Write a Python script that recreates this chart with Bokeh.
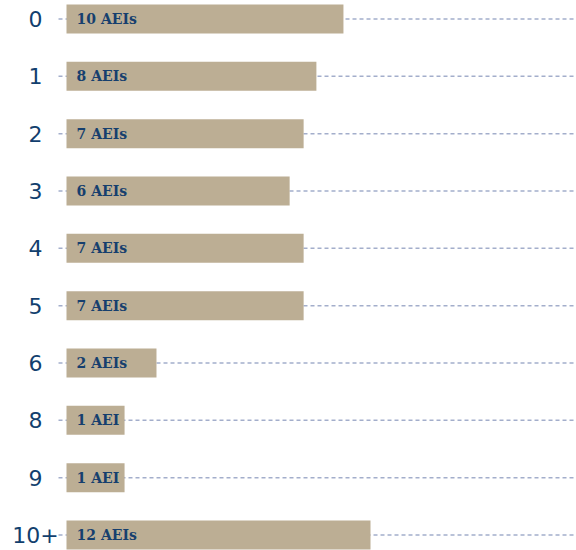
from bokeh.plotting import figure
from bokeh.models import ColumnDataSource, Range1d
from bokeh.core.properties import value
from bokeh.embed import file_html
from bokeh.resources import INLINE

# Number of prior events (categories), count of AEIs, and relative bar length (10+ = 100)
categories = ["0", "1", "2", "3", "4", "5", "6", "8", "9", "10+"]
aei_counts = [10, 8, 7, 6, 7, 7, 2, 1, 1, 12]
bar_length = [91.1, 82.2, 78.0, 73.4, 78.0, 78.0, 29.6, 19.1, 19.1, 100.0]

labels = [f"{c} AEI" if c == 1 else f"{c} AEIs" for c in aei_counts]
pos = list(range(len(categories)))

src = ColumnDataSource(dict(y=pos, right=bar_length, label=labels, cat=categories))

X0, X1 = -21.71, 167.1
p = figure(width=574, height=550, output_backend="svg", toolbar_location=None,
           x_range=Range1d(X0, X1), y_range=Range1d(9.271, -0.323),
           min_border=0)

p.axis.visible = False
p.grid.visible = False
p.outline_line_color = None

# dashed guide line for each category row (behind the bars)
p.segment(x0=-2.63, x1=X1, y0="y", y1="y", source=src,
          line_color="#a3aecb", line_dash="4 3", line_width=1.5)

p.hbar(y="y", left=0, right="right", height=0.506, source=src,
       fill_color="#bcae94", line_color=None)

p.text(x=3.3, y="y", text="label", source=src,
       text_font=value("DejaVu Serif"), text_font_style="bold",
       text_font_size="14px", text_color="#163f6e",
       text_baseline="middle", text_align="left")

# category labels, centred in the left margin
p.text(x=-10.2, y="y", text="cat", source=src,
       text_font=value("DejaVu Sans"), text_font_size="22px",
       text_color="#123f6e", text_baseline="middle", text_align="center")

open("out.html", "w").write(file_html(p, INLINE))
